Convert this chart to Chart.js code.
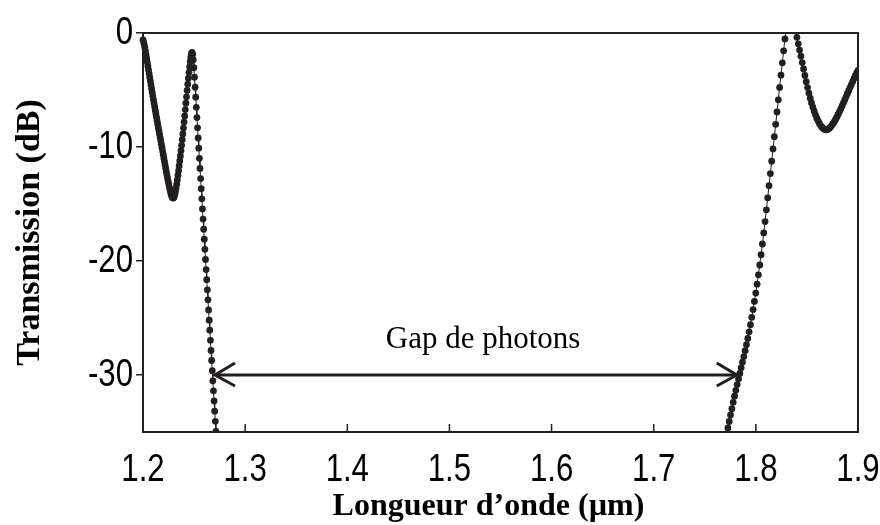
<!DOCTYPE html>
<html><head><meta charset="utf-8">
<script src="https://cdn.jsdelivr.net/npm/chart.js@4.4.0/dist/chart.umd.min.js"></script>
<style>html,body{margin:0;padding:0;background:#fff;}#wrap{width:880px;height:525px;}</style>
</head><body><div id="wrap"><canvas id="c" width="880" height="525"></canvas></div>
<script>
// Wavelength (µm) and transmission (dB)
const wavelengthLeft = [
1.2000,1.2006,1.2012,1.2018,1.2024,1.2030,1.2036,1.2042,1.2048,1.2054,
1.2060,1.2066,1.2072,1.2078,1.2084,1.2090,1.2096,1.2102,1.2108,1.2114,
1.2120,1.2126,1.2132,1.2138,1.2144,1.2150,1.2156,1.2162,1.2168,1.2174,
1.2180,1.2186,1.2192,1.2198,1.2204,1.2210,1.2216,1.2222,1.2228,1.2234,
1.2240,1.2246,1.2252,1.2258,1.2264,1.2270,1.2276,1.2282,1.2288,1.2294,
1.2300,1.2306,1.2312,1.2318,1.2324,1.2330,1.2336,1.2342,1.2348,1.2354,
1.2360,1.2366,1.2372,1.2378,1.2384,1.2390,1.2396,1.2402,1.2408,1.2414,
1.2420,1.2426,1.2432,1.2438,1.2444,1.2450,1.2456,1.2462,1.2468,1.2474,
1.2480,1.2486,1.2492,1.2498,1.2504,1.2510,1.2516,1.2522,1.2528,1.2534,
1.2540,1.2546,1.2552,1.2558,1.2564,1.2570,1.2576,1.2582,1.2588,1.2594,
1.2600,1.2606,1.2612,1.2618,1.2624,1.2630,1.2636,1.2642,1.2648,1.2654,
1.2660,1.2666,1.2672,1.2678,1.2684,1.2690,1.2696,1.2702,1.2708,1.2714,
1.2720,1.2726];
const transmissionLeft = [
-0.60,-0.80,-1.02,-1.28,-1.58,-1.90,-2.23,-2.57,-2.90,-3.23,
-3.56,-3.89,-4.22,-4.55,-4.88,-5.20,-5.52,-5.84,-6.15,-6.46,
-6.77,-7.08,-7.38,-7.68,-7.98,-8.28,-8.58,-8.88,-9.17,-9.46,
-9.76,-10.06,-10.36,-10.66,-10.96,-11.26,-11.56,-11.86,-12.15,-12.44,
-12.72,-12.99,-13.25,-13.50,-13.74,-13.96,-14.16,-14.32,-14.43,-14.48,
-14.45,-14.34,-14.15,-13.90,-13.60,-13.26,-12.89,-12.50,-12.09,-11.66,
-11.22,-10.78,-10.32,-9.85,-9.36,-8.86,-8.34,-7.81,-7.27,-6.72,
-6.16,-5.60,-5.04,-4.49,-3.96,-3.45,-2.97,-2.52,-2.12,-1.82,
-1.70,-1.88,-2.35,-3.05,-3.88,-4.75,-5.63,-6.52,-7.42,-8.32,
-9.21,-10.10,-10.99,-11.88,-12.77,-13.66,-14.55,-15.43,-16.32,-17.21,
-18.09,-18.98,-19.87,-20.75,-21.64,-22.53,-23.41,-24.30,-25.19,-26.07,
-26.96,-27.85,-28.73,-29.62,-30.51,-31.39,-32.28,-33.17,-34.06,-34.94,
-35.83,-36.72];
const wavelengthRight = [
1.7700,1.7713,1.7726,1.7739,1.7752,1.7765,1.7778,1.7791,1.7804,1.7817,
1.7830,1.7843,1.7856,1.7869,1.7882,1.7895,1.7908,1.7921,1.7934,1.7947,
1.7960,1.7973,1.7986,1.7999,1.8012,1.8025,1.8038,1.8051,1.8064,1.8077,
1.8090,1.8103,1.8116,1.8129,1.8142,1.8155,1.8168,1.8181,1.8194,1.8207,
1.8220,1.8233,1.8246,1.8259,1.8272,1.8285,1.8298,1.8311,1.8324,1.8337,
1.8350,1.8363,1.8376,1.8389,1.8402,1.8415,1.8428,1.8441,1.8454,1.8467,
1.8480,1.8493,1.8506,1.8519,1.8532,1.8545,1.8558,1.8571,1.8584,1.8597,
1.8610,1.8623,1.8636,1.8649,1.8662,1.8675,1.8688,1.8701,1.8714,1.8727,
1.8740,1.8753,1.8766,1.8779,1.8792,1.8805,1.8818,1.8831,1.8844,1.8857,
1.8870,1.8883,1.8896,1.8909,1.8922,1.8935,1.8948,1.8961,1.8974,1.8987,
1.9000];
const transmissionRight = [
-35.79,-35.22,-34.65,-34.08,-33.51,-32.95,-32.40,-31.86,-31.34,-30.84,
-30.35,-29.86,-29.37,-28.88,-28.38,-27.87,-27.34,-26.79,-26.21,-25.59,
-24.94,-24.26,-23.55,-22.81,-22.03,-21.21,-20.35,-19.45,-18.51,-17.54,
-16.54,-15.51,-14.46,-13.40,-12.33,-11.25,-10.17,-9.09,-8.01,-6.93,
-5.86,-4.78,-3.70,-2.62,-1.56,-0.52,0.45,1.20,1.65,1.80,
1.62,1.25,0.75,0.20,-0.38,-0.95,-1.50,-2.04,-2.59,-3.15,
-3.72,-4.27,-4.79,-5.27,-5.72,-6.13,-6.51,-6.86,-7.18,-7.47,
-7.73,-7.95,-8.14,-8.29,-8.40,-8.47,-8.49,-8.46,-8.39,-8.28,
-8.14,-7.98,-7.80,-7.60,-7.38,-7.15,-6.91,-6.66,-6.40,-6.14,
-5.87,-5.60,-5.33,-5.06,-4.79,-4.52,-4.26,-4.00,-3.75,-3.51,
-3.28];
const xTicks = [1.2,1.3,1.4,1.5,1.6,1.7,1.8,1.9];
const yTicks = [-30,-20,-10,0];
const xRange = [1.2, 1.9];
const yRange = [-35, 0];
const gapArrow = {from: 1.2705, to: 1.7813, level: -30};
const gapLabel = {text: 'Gap de photons', x: 1.533, y: -26.9};
const xTitle = 'Longueur d’onde (µm)';
const yTitle = 'Transmission (dB)';

const INK = '#231f20';
const SANS = "'Liberation Sans',Arial,sans-serif";
const SERIF = "'Liberation Serif','Times New Roman',serif";
const NARROW_X = 0.82; // Arial Narrow proportions

function pts(xs, ys){ return xs.map((v,i)=>({x:v, y:ys[i]})); }
const lineStyle = {
  borderColor: INK, borderWidth: 1, pointRadius: 3.4, pointBackgroundColor: INK,
  pointBorderColor: INK, pointBorderWidth: 0, tension: 0,
  clip: {left: 5, top: 0, right: 0, bottom: 0}
};

function narrowText(ctx, text, px, py, align){
  ctx.save();
  ctx.translate(px, py); ctx.scale(NARROW_X, 1);
  ctx.textAlign = align; ctx.textBaseline = 'middle';
  ctx.fillText(text, 0, 0);
  ctx.restore();
}

const decor = {
  id: 'decor',
  afterDatasetsDraw(chart){
    const {ctx, chartArea: a, scales: {x, y}} = chart;
    ctx.save();
    ctx.strokeStyle = INK; ctx.lineWidth = 2;
    ctx.beginPath(); ctx.moveTo(a.left, a.top); ctx.lineTo(a.right, a.top); ctx.lineTo(a.right, a.bottom); ctx.stroke();
    ctx.lineWidth = 1.5;
    xTicks.slice(1, -1).forEach(v => {
      const px = x.getPixelForValue(v);
      ctx.beginPath(); ctx.moveTo(px, a.bottom); ctx.lineTo(px, a.bottom - 8); ctx.stroke();
    });
    // tick labels
    ctx.fillStyle = '#000'; ctx.font = '38px ' + SANS;
    xTicks.forEach(v => narrowText(ctx, v.toFixed(1), x.getPixelForValue(v), a.bottom + 39, 'center'));
    yTicks.forEach(v => narrowText(ctx, String(v), a.left - 10, y.getPixelForValue(v) + 1, 'right'));
    // x title, centred a little left of the plot centre as in the reference
    ctx.font = 'bold 32px ' + SERIF; ctx.textAlign = 'center'; ctx.textBaseline = 'middle';
    ctx.fillText(xTitle, (a.left + a.right) / 2 - 12, 507);
    // gap arrow
    const yy = y.getPixelForValue(gapArrow.level);
    const x1 = x.getPixelForValue(gapArrow.from), x2 = x.getPixelForValue(gapArrow.to);
    ctx.lineWidth = 3; ctx.lineJoin = 'miter'; ctx.lineCap = 'butt';
    ctx.beginPath(); ctx.moveTo(x1 + 2, yy); ctx.lineTo(x2 - 2, yy); ctx.stroke();
    ctx.beginPath(); ctx.moveTo(x1 + 20, yy - 12); ctx.lineTo(x1, yy); ctx.lineTo(x1 + 20, yy + 11); ctx.stroke();
    ctx.beginPath(); ctx.moveTo(x2 - 20, yy - 12); ctx.lineTo(x2, yy); ctx.lineTo(x2 - 20, yy + 11); ctx.stroke();
    ctx.fillStyle = '#000'; ctx.font = '31px ' + SERIF; ctx.textAlign = 'center'; ctx.textBaseline = 'middle';
    ctx.fillText(gapLabel.text, x.getPixelForValue(gapLabel.x), y.getPixelForValue(gapLabel.y));
    ctx.restore();
  }
};

new Chart(document.getElementById('c'), {
  type: 'line',
  data: { datasets: [
    Object.assign({data: pts(wavelengthLeft, transmissionLeft)}, lineStyle),
    Object.assign({data: pts(wavelengthRight, transmissionRight)}, lineStyle)
  ]},
  options: {
    responsive: false, devicePixelRatio: 1, animation: false, events: [],
    layout: {padding: {top: 33, right: 22, left: 0, bottom: 0}},
    plugins: {legend: {display: false}, tooltip: {enabled: false}},
    scales: {
      x: {
        type: 'linear', min: xRange[0], max: xRange[1],
        afterBuildTicks: s => { s.ticks = xTicks.map(v => ({value: v})); },
        afterFit: s => { s.height = 93; },
        ticks: {display: false},
        grid: {drawOnChartArea: false, drawTicks: false},
        border: {display: true, color: INK, width: 2},
        title: {display: false, text: xTitle}
      },
      y: {
        type: 'linear', min: yRange[0], max: yRange[1],
        afterBuildTicks: s => { s.ticks = yTicks.map(v => ({value: v})); },
        afterFit: s => { s.width = 143; },
        ticks: {display: false},
        grid: {drawOnChartArea: false, drawTicks: true, tickLength: 7, color: INK, lineWidth: 1.5},
        border: {display: true, color: INK, width: 2},
        title: {display: true, text: yTitle, color: '#000',
                font: {family: SERIF, weight: 'bold', size: 34, lineHeight: 1.2}, padding: {top: 10, bottom: 0}}
      }
    }
  },
  plugins: [decor]
});
</script>
</body></html>
